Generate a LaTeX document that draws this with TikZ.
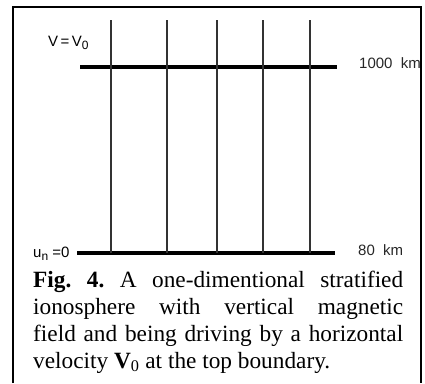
\documentclass[tikz,border=0pt]{standalone}
\usepackage{fontspec}
\setmainfont{Liberation Serif}
\newfontfamily\labelfont{Liberation Sans}
\usetikzlibrary{positioning}
\newcommand\lowsub[1]{\raisebox{-3.5pt}{\fontsize{12}{12}\selectfont #1}}

\begin{document}
\begin{tikzpicture}[x=1pt, y=-1pt,
  frame/.style={line width=1.4pt},
  boundary/.style={line width=3.6pt},
  fieldline/.style={line width=1.2pt, black!80},
  lbl/.style={font=\labelfont\fontsize{15}{15}\selectfont, inner sep=0pt, anchor=base west},
  kmlbl/.style={font=\labelfont\fontsize{15}{15}\selectfont, inner sep=0pt, anchor=base west, black!85},
  caption/.style={font=\fontsize{23.3}{27}\selectfont, text width=370pt, align=justify, inner sep=0pt, anchor=base west}]
\useasboundingbox (0,0) rectangle (425,383);
% frame
\draw[frame] (13,383) -- (13,7) -- (421,7) -- (421,383);
% boundaries
\coordinate (topL) at (80,67); \coordinate (topR) at (337,67);
\coordinate (botL) at (77,253); \coordinate (botR) at (335,253);
\draw[boundary] (topL) -- (topR);
\draw[boundary] (botL) -- (botR);
% vertical magnetic field lines
\foreach \i/\x in {1/111,2/167,3/217,4/263,5/310}{
  \coordinate (f\i) at (\x,20); \coordinate (g\i) at (\x,253);
  \draw[fieldline] (f\i) -- (g\i);
}
% labels
\node[lbl] (vtop) at (48,46) {V\,=\,V\lowsub{0}};
\node[lbl] (ubot) at (33,257) {u\lowsub{n} =0};
\node[kmlbl] (ktop) at (359,68) {1000\ \ km};
\node[kmlbl] (kbot) at (358,255) {80\ \ km};
\node[caption] (cap) at (33,287) {\textbf{Fig.\ \ 4.}\ \ A\ \ one-dimentional\ \ stratified\linebreak
  ionosphere\ \ \ with\ \ \ vertical\ \ \ magnetic\linebreak
  field and being driving by a horizontal\linebreak
  velocity \textbf{V}\textsubscript{0} at the top boundary.};
\end{tikzpicture}
\end{document}
